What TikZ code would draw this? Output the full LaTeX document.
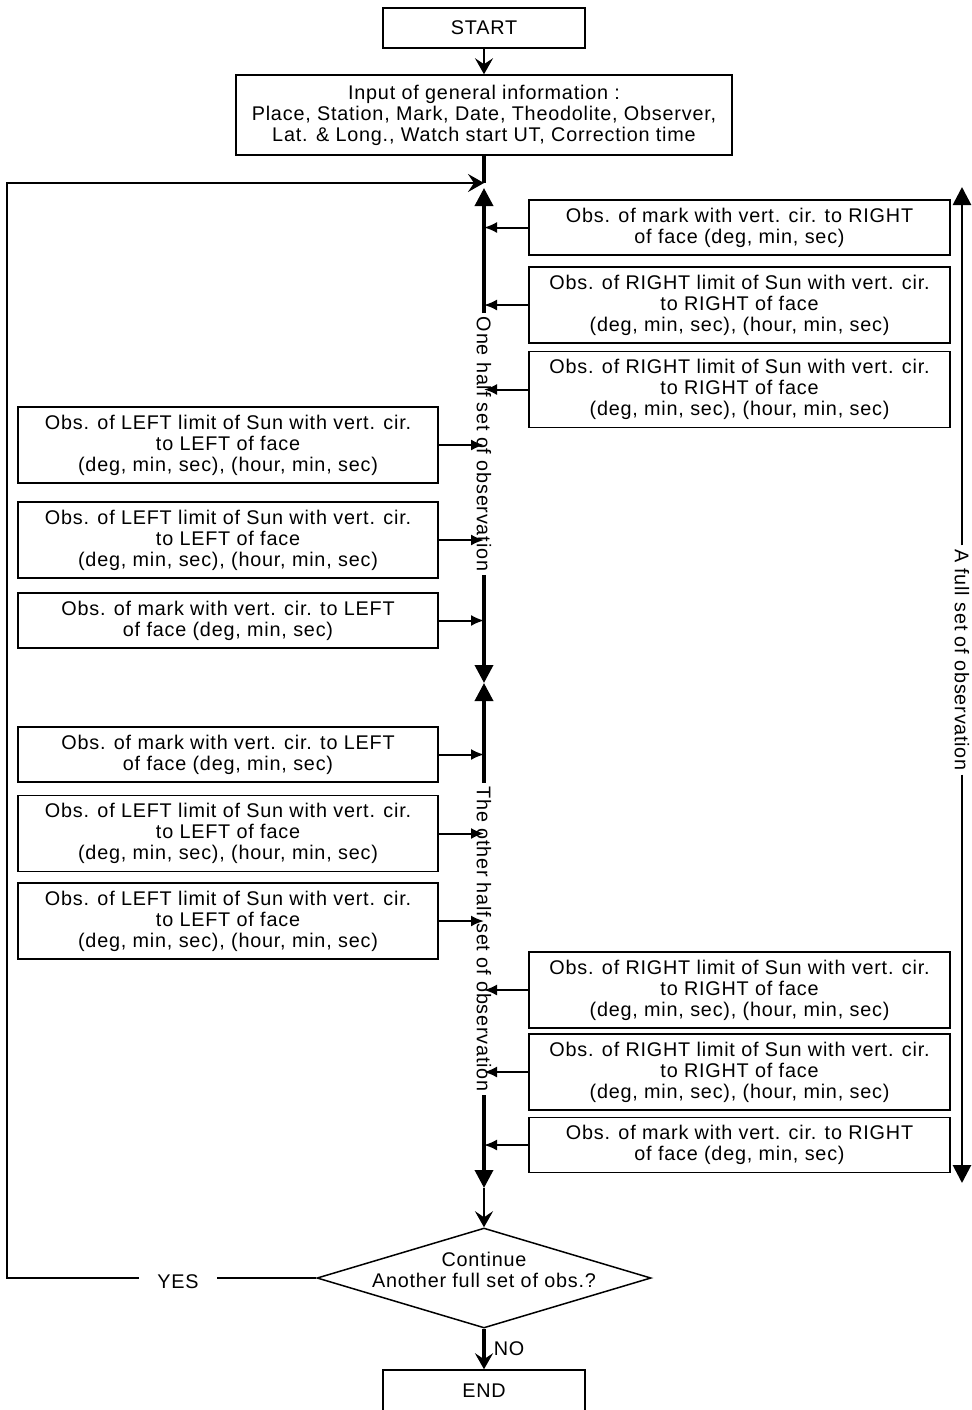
\documentclass[tikz,border=0pt]{standalone}
\usepackage{fontspec}
\setmainfont{Liberation Sans}[LetterSpace=4]
\usetikzlibrary{arrows.meta,positioning,shapes.geometric}
\tikzset{
  every picture/.style={x=0.5pt, y=-0.5pt, line width=0.75pt, font=\fontsize{9.9}{10.5}\selectfont},
  box/.style={draw, inner sep=0pt, align=center, minimum height=27.5pt},
  obsr/.style={box, minimum width=210.5pt},
  obsl/.style={box, minimum width=210pt},
  three/.style={minimum height=38pt},
  link/.style={-{Latex[length=6.5pt,width=5.5pt]}, line width=1pt},
  feed/.style={-{Stealth[length=8pt,width=9pt,inset=3pt]}, line width=1pt},
  spine/.style={-{Triangle[length=9pt,width=9pt]}, line width=1.8pt},
  span/.style={rotate=-90, inner sep=1.5pt},
}

\begin{document}
\begin{tikzpicture}
  \useasboundingbox (0,0) rectangle (971,1410);
  \coordinate (axis) at (484,0);
  \coordinate (entry) at (484,183);
  \coordinate (top1) at (484,188);
  \coordinate (mid) at (484,683);
  \coordinate (low) at (484,1188);
  \coordinate (ftop) at (962,187);
  \coordinate (fbot) at (962,1183);
  \coordinate (back) at (7,1278);

  \node[box, minimum width=101pt, minimum height=20pt] (start) at (484,28) {START};
  \node[box, minimum width=248pt, minimum height=40pt] (info) at (484,115) {Input of general information :\\Place, Station, Mark, Date, Theodolite, Observer,\\Lat. \& Long., Watch start UT, Correction time};
  \draw[feed] (start) -- (info);
  \draw[line width=1.8pt] (info) -- (entry);

  \node[obsr] (r1) at (739.5,227.5) {Obs. of mark with vert. cir. to RIGHT\\of face (deg, min, sec)};
  \node[obsr, three] (r2) at (739.5,305) {Obs. of RIGHT limit of Sun with vert. cir.\\to RIGHT of face\\(deg, min, sec), (hour, min, sec)};
  \node[obsr, three] (r3) at (739.5,389.5) {Obs. of RIGHT limit of Sun with vert. cir.\\to RIGHT of face\\(deg, min, sec), (hour, min, sec)};
  \node[obsl, three] (l1) at (228,445) {Obs. of LEFT limit of Sun with vert. cir.\\to LEFT of face\\(deg, min, sec), (hour, min, sec)};
  \node[obsl, three] (l2) at (228,540) {Obs. of LEFT limit of Sun with vert. cir.\\to LEFT of face\\(deg, min, sec), (hour, min, sec)};
  \node[obsl] (l3) at (228,620.5) {Obs. of mark with vert. cir. to LEFT\\of face (deg, min, sec)};
  \node[obsl] (l4) at (228,754.5) {Obs. of mark with vert. cir. to LEFT\\of face (deg, min, sec)};
  \node[obsl, three] (l5) at (228,833.5) {Obs. of LEFT limit of Sun with vert. cir.\\to LEFT of face\\(deg, min, sec), (hour, min, sec)};
  \node[obsl, three] (l6) at (228,921) {Obs. of LEFT limit of Sun with vert. cir.\\to LEFT of face\\(deg, min, sec), (hour, min, sec)};
  \node[obsr, three] (r4) at (739.5,990) {Obs. of RIGHT limit of Sun with vert. cir.\\to RIGHT of face\\(deg, min, sec), (hour, min, sec)};
  \node[obsr, three] (r5) at (739.5,1072) {Obs. of RIGHT limit of Sun with vert. cir.\\to RIGHT of face\\(deg, min, sec), (hour, min, sec)};
  \node[obsr] (r6) at (739.5,1145) {Obs. of mark with vert. cir. to RIGHT\\of face (deg, min, sec)};

  \draw[link] (r1.west) -- (r1.west -| axis);
  \draw[link] (r2.west) -- (r2.west -| axis);
  \draw[link] (r3.west) -- (r3.west -| axis);
  \draw[link] (l1.east) -- (l1.east -| axis);
  \draw[link] (l2.east) -- (l2.east -| axis);
  \draw[link] (l3.east) -- (l3.east -| axis);
  \draw[link] (l4.east) -- (l4.east -| axis);
  \draw[link] (l5.east) -- (l5.east -| axis);
  \draw[link] (l6.east) -- (l6.east -| axis);
  \draw[link] (r4.west) -- (r4.west -| axis);
  \draw[link] (r5.west) -- (r5.west -| axis);
  \draw[link] (r6.west) -- (r6.west -| axis);

  \node[span] (half1) at (484,444) {One half set of observation};
  \node[span] (half2) at (484,939) {The other half set of observation};
  \draw[spine] (half1.west) -- (top1);
  \draw[spine] (half1.east) -- (mid);
  \draw[spine] (half2.west) -- (mid);
  \draw[spine] (half2.east) -- (low);

  \node[span] (full) at (962,660) {A full set of observation};
  \draw[spine, line width=1.4pt] (full.west) -- (ftop);
  \draw[spine, line width=1.4pt] (full.east) -- (fbot);

  \node[diamond, draw, minimum width=167pt, minimum height=50pt, inner sep=0pt] (ask) at (484,1278) {};
  \node[align=center] (asktext) at (484,1270) {Continue\\Another full set of obs.?};
  \draw[feed] (low) -- (ask);

  \node[box, minimum width=101pt, minimum height=21pt] (stop) at (484,1391) {END};
  \draw[feed, line width=1.8pt] (ask) -- node[right, inner sep=4pt] {NO} (stop);

  \node[inner xsep=9pt] (yes) at (178,1282) {YES};
  \draw (ask.west) -- (ask.west -| yes.east);
  \draw[feed] (ask.west -| yes.west) -- (back) |- (entry);
\end{tikzpicture}
\end{document}
